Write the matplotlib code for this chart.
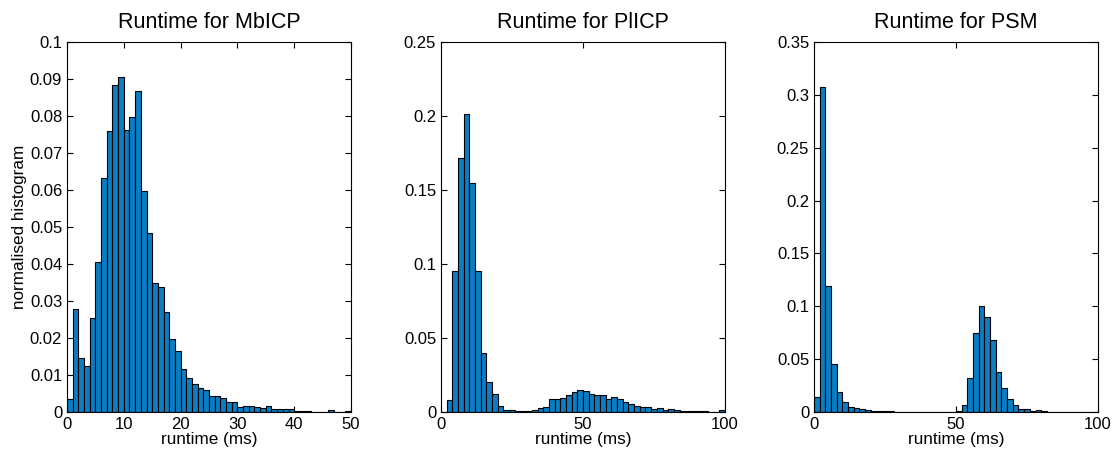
import numpy as np
import matplotlib.pyplot as plt

plt.rcParams['font.family'] = ['Liberation Sans', 'DejaVu Sans']

# MbICP: 50 bins of 1 ms on [0, 50]
mbicp_edges = np.arange(0, 51, 1)
mbicp_vals = [0.0036, 0.0279, 0.0147, 0.0125, 0.0254, 0.0405, 0.0633, 0.0760, 0.0883, 0.0905,
              0.0762, 0.0797, 0.0867, 0.0596, 0.0483, 0.0350, 0.0339, 0.0270, 0.0197, 0.0166,
              0.0117, 0.0091, 0.0077, 0.0066, 0.0059, 0.0044, 0.0044, 0.0038, 0.0027, 0.0027,
              0.0014, 0.0017, 0.0015, 0.0014, 0.0012, 0.0016, 0.0007, 0.0007, 0.0007, 0.0007,
              0.0002, 0.0004, 0.0002, 0.0001, 0.0001, 0.0001, 0.0005, 0.0001, 0.0001, 0.0002]

# PlICP: 50 bins of 2 ms on [0, 100]
plicp_edges = np.arange(0, 101, 2)
plicp_vals = [0.0, 0.0083, 0.0955, 0.1718, 0.2014, 0.1545, 0.0953, 0.0401, 0.0205, 0.0124,
              0.0043, 0.0014, 0.0014, 0.0009, 0.0005, 0.0009, 0.0014, 0.0025, 0.0034, 0.0086,
              0.0088, 0.0097, 0.0117, 0.0133, 0.0146, 0.0140, 0.0124, 0.0117, 0.0117, 0.0088,
              0.0099, 0.0086, 0.0065, 0.0052, 0.0041, 0.0034, 0.0034, 0.0023, 0.0025, 0.0014,
              0.0018, 0.0014, 0.0007, 0.0007, 0.0007, 0.0005, 0.0007, 0.0003, 0.0003, 0.0011]

# PSM: 50 bins of 2 ms on [0, 100]
psm_edges = np.arange(0, 101, 2)
psm_vals = [0.0145, 0.3078, 0.1195, 0.0451, 0.0186, 0.0091, 0.0050, 0.0041, 0.0028, 0.0016,
            0.0009, 0.0005, 0.0005, 0.0005, 0.0003, 0.0003, 0.0003, 0.0003, 0.0002, 0.0002,
            0.0002, 0.0002, 0.0002, 0.0002, 0.0002, 0.0013, 0.0069, 0.0318, 0.0747, 0.1000,
            0.0899, 0.0684, 0.0375, 0.0224, 0.0120, 0.0063, 0.0032, 0.0025, 0.0013, 0.0016,
            0.0009, 0.0003, 0.0003, 0.0002, 0.0002, 0.0002, 0.0002, 0.0002, 0.0002, 0.0002]

panels = [
    ("Runtime for MbICP", mbicp_edges, mbicp_vals, 50, np.arange(0, 51, 10),
     0.1, np.round(np.arange(0, 0.1001, 0.01), 2)),
    ("Runtime for PlICP", plicp_edges, plicp_vals, 100, [0, 50, 100],
     0.25, np.round(np.arange(0, 0.2501, 0.05), 2)),
    ("Runtime for PSM", psm_edges, psm_vals, 100, [0, 50, 100],
     0.35, np.round(np.arange(0, 0.3501, 0.05), 2)),
]
lefts = [67, 441, 814]

fig = plt.figure(figsize=(11.17, 4.54), dpi=100)
W, H = 1117, 454

for i, (title, edges, vals, xmax, xt, ymax, yt) in enumerate(panels):
    ax = fig.add_axes([lefts[i] / W, 1 - 412 / H, 284 / W, 370 / H])
    ax.bar(edges[:-1], vals, width=np.diff(edges), align='edge',
           color='#0a7dc4', edgecolor='black', linewidth=0.8)
    ax.set_xlim(0, xmax)
    ax.set_ylim(0, ymax)
    ax.set_xticks(xt)
    ax.set_yticks(yt)
    ax.set_yticklabels(['0'] + ['%g' % v for v in yt[1:]])
    ax.tick_params(direction='in', top=True, right=True, labelsize=12, length=4)
    ax.set_title(title, fontsize=15.5, pad=10)
    ax.set_xlabel("runtime (ms)", fontsize=12.3, labelpad=0)
    if i == 0:
        ax.set_ylabel("normalised histogram", fontsize=12.3, labelpad=2)

fig.savefig("out.png", dpi=100)
